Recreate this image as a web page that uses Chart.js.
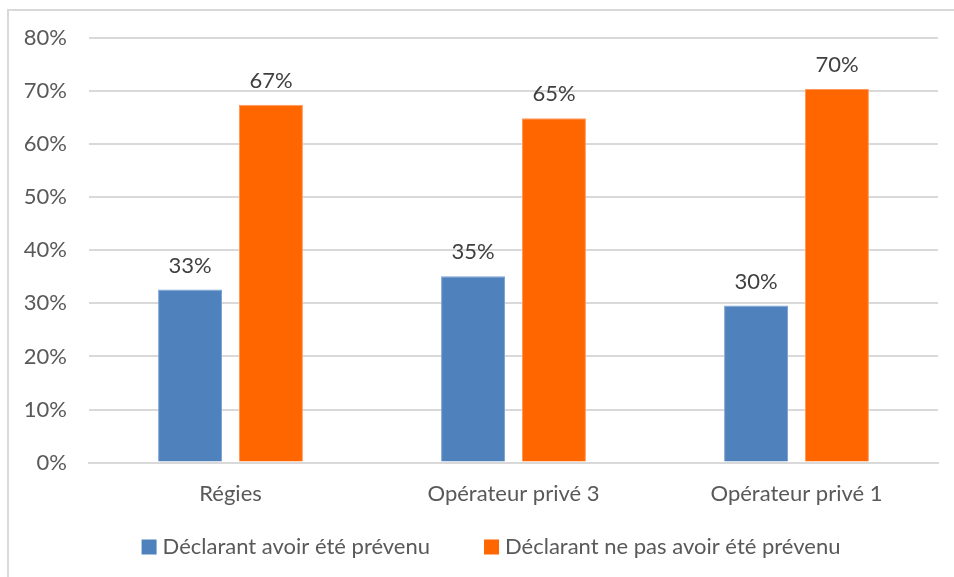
<!DOCTYPE html>
<html>
<head>
<meta charset="utf-8">
<script src="https://cdn.jsdelivr.net/npm/chart.js@4.4.0/dist/chart.umd.min.js"></script>
<style>
  html, body { margin: 0; padding: 0; background: #fff; }
  #wrap { position: relative; width: 954px; height: 577px; overflow: hidden; }
  #frame { position: absolute; left: 7px; top: 9px; width: 960px; height: 600px; border: 2px solid #d9d9d9; box-sizing: border-box; }
  canvas { position: absolute; left: 0; top: 0; }
</style>
</head>
<body>
<div id="wrap">
  <div id="frame"></div>
  <canvas id="chart" width="954" height="577"></canvas>
</div>
<script>
const categories = ["Régies", "Opérateur privé 3", "Opérateur privé 1"];
const seriesNames = ["Déclarant avoir été prévenu", "Déclarant ne pas avoir été prévenu"];
const prevenu = [32.6, 35.1, 29.6];
const nonPrevenu = [67.4, 64.9, 70.4];
const yTicks = [0, 10, 20, 30, 40, 50, 60, 70, 80];

const FONT = "Lato, 'Open Sans', sans-serif";
const SIZE = 22;

// draw the value above each bar
const valueLabels = {
  id: "valueLabels",
  afterDatasetsDraw(chart) {
    const ctx = chart.ctx;
    ctx.save();
    ctx.font = SIZE + "px " + FONT;
    ctx.fillStyle = "#404040";
    ctx.textAlign = "center";
    ctx.textBaseline = "middle";
    chart.data.datasets.forEach((ds, i) => {
      chart.getDatasetMeta(i).data.forEach((bar, j) => {
        ctx.fillText(Math.round(ds.data[j]) + "%", bar.x, bar.y - 24);
      });
    });
    ctx.restore();
  }
};

// legend drawn by hand, to get the wide spacing between items
const bottomLegend = {
  id: "bottomLegend",
  afterDraw(chart) {
    const ctx = chart.ctx;
    const y = 547, box = 15, gap = 6, itemGap = 54;
    ctx.save();
    ctx.font = SIZE + "px " + FONT;
    ctx.textBaseline = "middle";
    const items = chart.data.datasets.map(ds => ({ text: ds.label, color: ds.backgroundColor, w: box + gap + ctx.measureText(ds.label).width }));
    const total = items.reduce((s, it) => s + it.w, 0) + itemGap * (items.length - 1);
    let x = 491 - total / 2;
    items.forEach(it => {
      ctx.fillStyle = it.color;
      ctx.fillRect(x, y - box / 2, box, box);
      ctx.fillStyle = "#595959";
      ctx.fillText(it.text, x + box + gap, y);
      x += it.w + itemGap;
    });
    ctx.restore();
  }
};

new Chart(document.getElementById("chart"), {
  type: "bar",
  data: {
    labels: categories,
    datasets: [
      { label: seriesNames[0], data: prevenu, backgroundColor: "#4f81bd", borderColor: "#7ea4d4", borderWidth: 1 },
      { label: seriesNames[1], data: nonPrevenu, backgroundColor: "#ff6600", borderColor: "#ff9a5c", borderWidth: 1 }
    ]
  },
  options: {
    responsive: false,
    animation: false,
    categoryPercentage: 0.572,
    barPercentage: 0.79,
    layout: { padding: { top: 38, right: 16, bottom: 52, left: 0 } },
    plugins: {
      tooltip: { enabled: false },
      legend: { display: false }
    },
    scales: {
      x: {
        grid: { display: false, drawTicks: false },
        border: { color: "#d9d9d9", width: 2 },
        ticks: { font: { family: FONT, size: SIZE }, color: "#595959", padding: 18 }
      },
      y: {
        min: 0,
        max: 80,
        afterFit(scale) { scale.width = 89; },
        afterBuildTicks(scale) { scale.ticks = yTicks.map(v => ({ value: v })); },
        grid: { color: "#d9d9d9", lineWidth: 2, drawTicks: false },
        border: { display: false },
        ticks: {
          font: { family: FONT, size: SIZE },
          color: "#595959",
          padding: 22,
          callback: v => v + "%"
        }
      }
    }
  },
  plugins: [valueLabels, bottomLegend]
});
</script>
</body>
</html>
